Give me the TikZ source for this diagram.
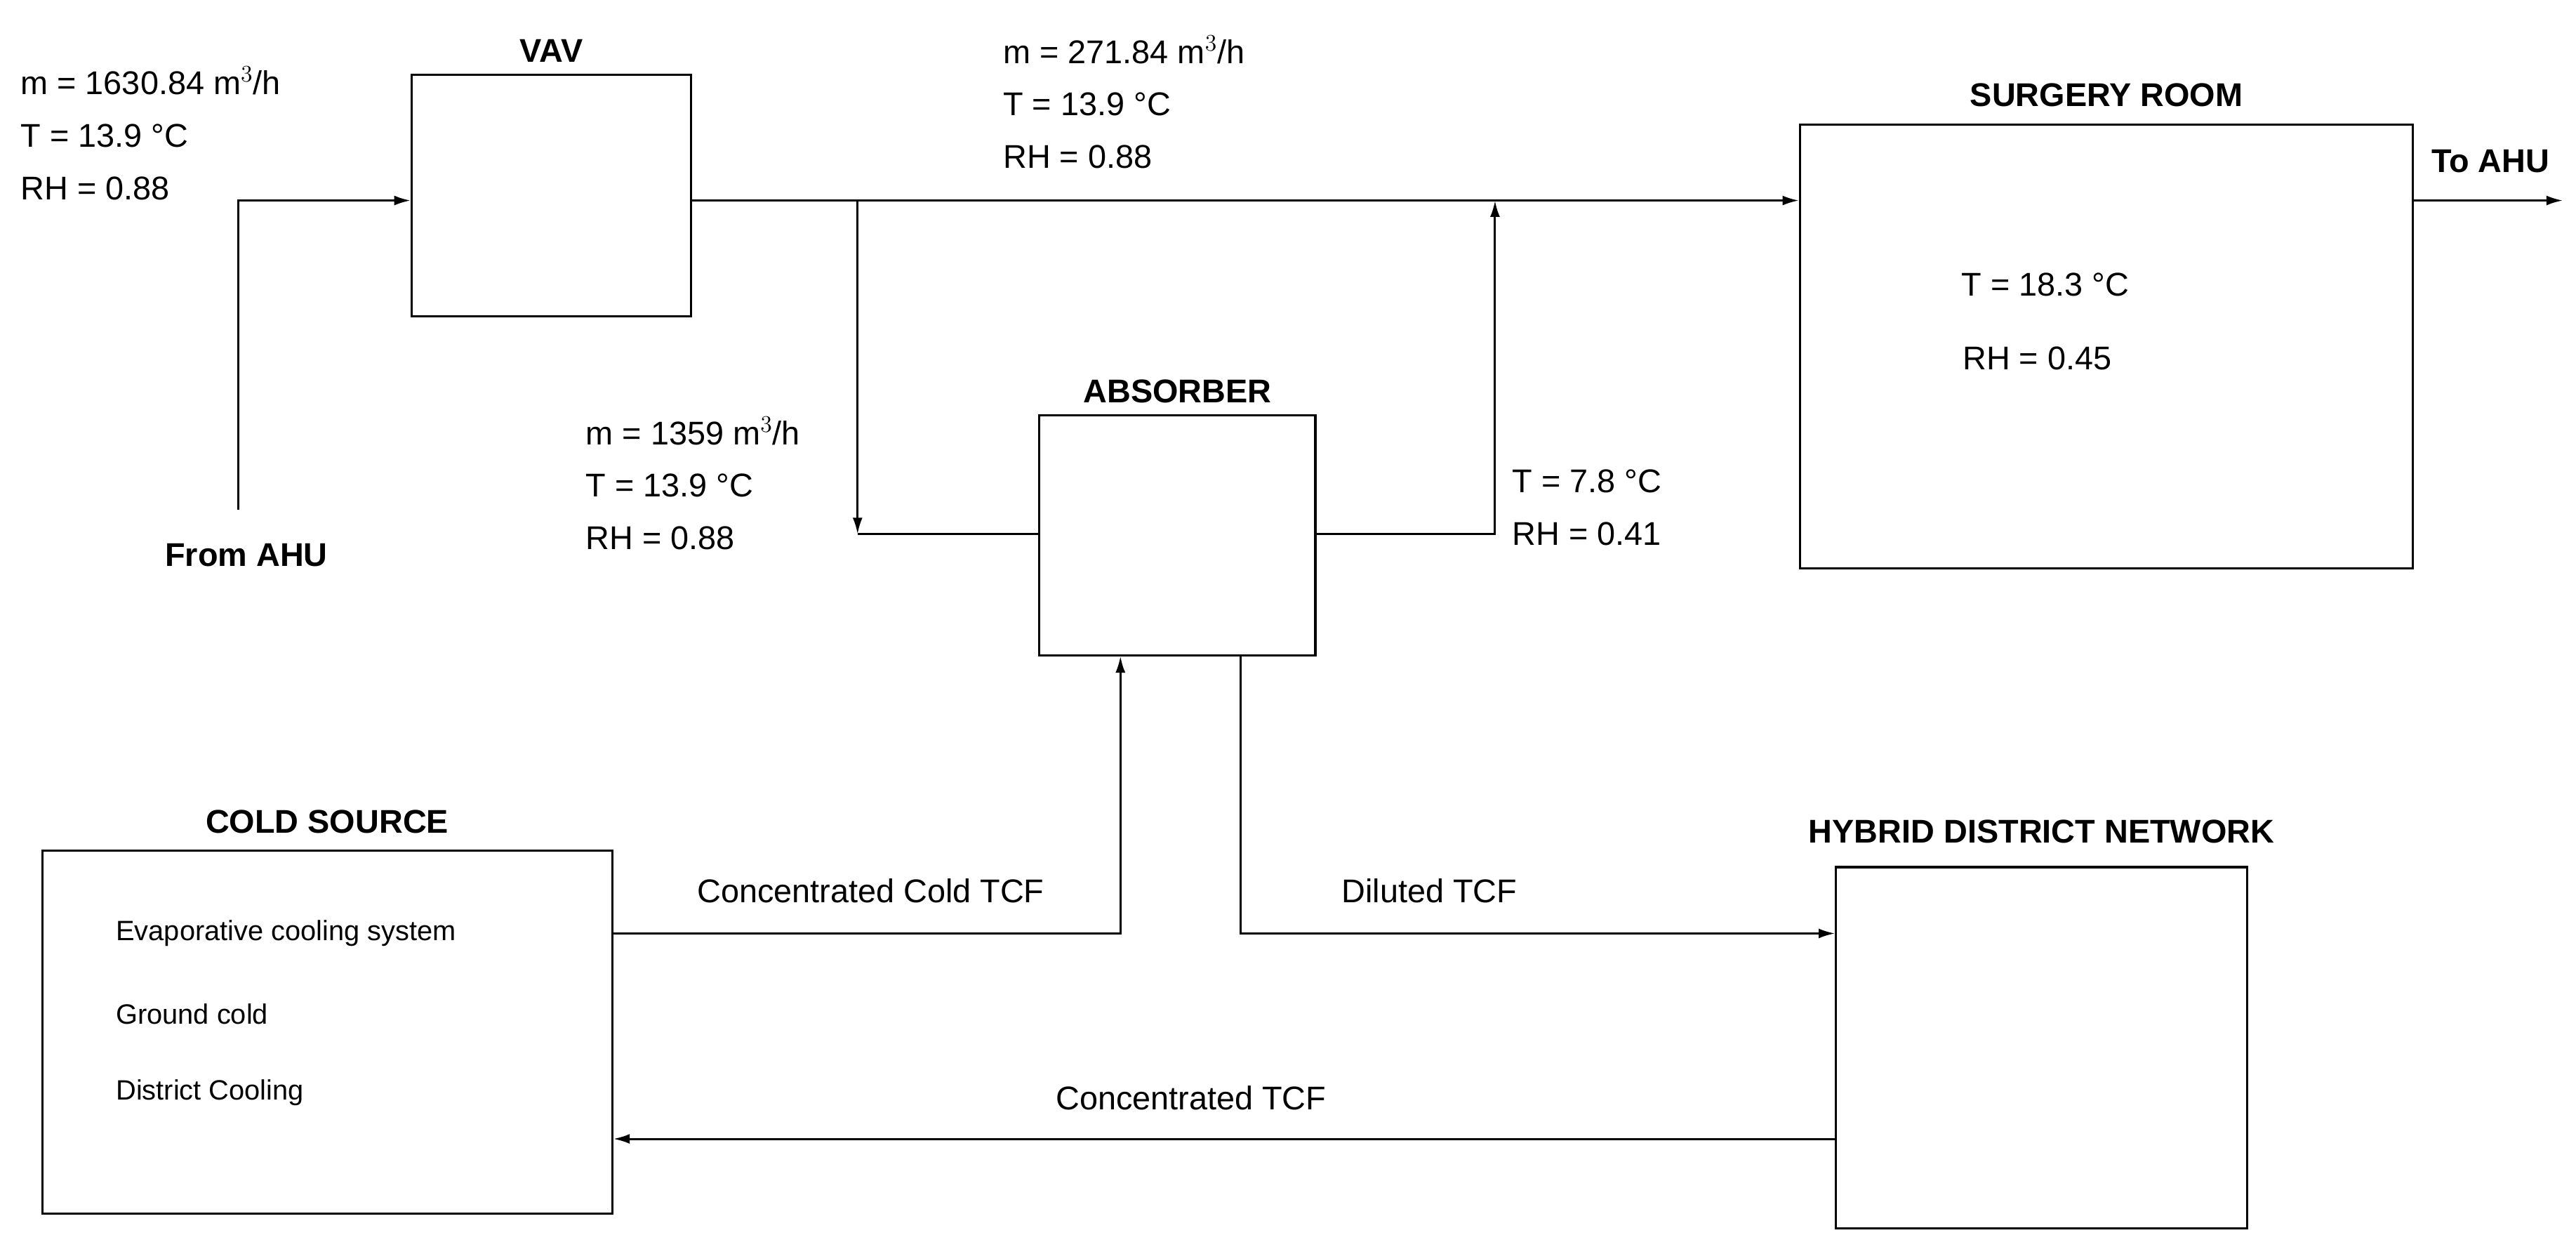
\documentclass[tikz,border=0pt]{standalone}
\usepackage{fontspec}
\setmainfont{Liberation Sans}
\usetikzlibrary{arrows.meta,positioning}

\begin{document}
\begin{tikzpicture}[x=1pt,y=-1pt,line width=1.3pt,>={Latex[length=10pt,width=6pt]},
    box/.style={draw,rectangle,anchor=north west,inner sep=0pt},
    title/.style={font=\fontsize{20}{24}\selectfont\bfseries},
    info/.style={font=\fontsize{20}{32}\selectfont,align=left,anchor=north west,inner sep=0pt},
    small/.style={font=\fontsize{17}{24}\selectfont,anchor=west,inner sep=0pt}]
\useasboundingbox (0,0) rectangle (1568,763);
% boxes
    \node (VAV) [box,minimum width=170,minimum height=147] at (250,45) {};
    \node (Room) [box,minimum width=373,minimum height=270] at (1095,75) {};
    \node (Abs) [box,minimum width=168,minimum height=146] at (632,252) {};
    \node (Cold) [box,minimum width=347,minimum height=221] at (25,517) {};
    \node (Net) [box,minimum width=250,minimum height=220] at (1117,527) {};
% titles
    \node (tVAV) [title,above=3pt of VAV] {VAV};
    \node (tRoom) [title,above=6pt of Room] {SURGERY ROOM};
    \node (tAbs) [title,above=3pt of Abs] {ABSORBER};
    \node (tCold) [title,above=6pt of Cold] {COLD SOURCE};
    \node (tNet) [title,above=10pt of Net] {HYBRID DISTRICT NETWORK};
    \node (fromAHU) [title] at (150,338) {From AHU};
    \node (toAHU) [title] at (1516,98) {To AHU};
% data
    \node (inData) [info] at (12,40) {m = 1630.84 m$^3$/h\\T = 13.9 °C\\RH = 0.88};
    \node (topData) [info] at (610,21) {m = 271.84 m$^3$/h\\T = 13.9 °C\\RH = 0.88};
    \node (byData) [info] at (356,253) {m = 1359 m$^3$/h\\T = 13.9 °C\\RH = 0.88};
    \node (outData) [info] at (920,285) {T = 7.8 °C\\RH = 0.41};
    \node (roomT) [font=\fontsize{20}{24}\selectfont] at (1245,173) {T = 18.3 °C};
    \node (roomRH) [font=\fontsize{20}{24}\selectfont] at (1240,218) {RH = 0.45};
    \node (s1) [small] at (70,568) {Evaporative cooling system};
    \node (s2) [small] at (70,617) {Ground cold};
    \node (s3) [small] at (70,665) {District Cooling};
% flows
    \coordinate (inStart) at (145,310);
    \coordinate (split) at (522,122);
    \coordinate (join) at (910,122);
    \coordinate (out) at (1560,122);
    \draw[->] (inStart) |- (VAV.west |- 0,122);
    \draw[->] (VAV.east |- 0,122) -- (Room.west |- 0,122);
    \draw[->] (split) -- (522,325);
    \draw (Abs.west |- 0,325) -- (522,325);
    \draw[->] (Abs.east |- 0,325) -| (join);
    \draw[->] (Room.east |- 0,122) -- (out);
    \draw[->] (Cold.east |- 0,568) -| (Abs.south -| 682,0);
    \draw[->] (Abs.south -| 755,0) |- (Net.west |- 0,568);
    \draw[->] (Net.west |- 0,693) -- (Cold.east |- 0,693);
    \node (lCold) [font=\fontsize{20}{24}\selectfont] at (530,542) {Concentrated Cold TCF};
    \node (lDil) [font=\fontsize{20}{24}\selectfont] at (870,542) {Diluted TCF};
    \node (lConc) [font=\fontsize{20}{24}\selectfont] at (725,668) {Concentrated TCF};
\end{tikzpicture}
\end{document}
